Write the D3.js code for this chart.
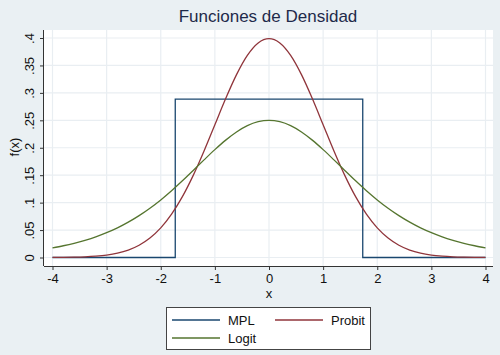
<!DOCTYPE html>
<html>
<head>
<meta charset="utf-8">
<script src="https://cdn.jsdelivr.net/npm/d3@7"></script>
<style>
  body { margin: 0; background: #eaf0f3; }
  svg { display: block; font-family: "Liberation Sans", Arial, sans-serif; }
</style>
</head>
<body>
<div id="chart"></div>
<script>
// values
const xs = [-4, -3.8, -3.6, -3.4, -3.2, -3, -2.8, -2.6, -2.4, -2.2, -2, -1.8, -1.6, -1.4, -1.2, -1, -0.8, -0.6, -0.4, -0.2,
  0, 0.2, 0.4, 0.6, 0.8, 1, 1.2, 1.4, 1.6, 1.8, 2, 2.2, 2.4, 2.6, 2.8, 3, 3.2, 3.4, 3.6, 3.8, 4];
const probit = [0.0001, 0.0003, 0.0006, 0.0012, 0.0024, 0.0044, 0.0079, 0.0136, 0.0224, 0.0355, 0.054, 0.079, 0.1109, 0.1497, 0.1942, 0.242, 0.2897, 0.3332, 0.3683, 0.391,
  0.3989, 0.391, 0.3683, 0.3332, 0.2897, 0.242, 0.1942, 0.1497, 0.1109, 0.079, 0.054, 0.0355, 0.0224, 0.0136, 0.0079, 0.0044, 0.0024, 0.0012, 0.0006, 0.0003, 0.0001];
const logit = [0.0177, 0.0214, 0.0259, 0.0313, 0.0376, 0.0452, 0.054, 0.0644, 0.0763, 0.0898, 0.105, 0.1217, 0.1398, 0.1587, 0.1779, 0.1966, 0.2139, 0.2288, 0.2403, 0.2475,
  0.25, 0.2475, 0.2403, 0.2288, 0.2139, 0.1966, 0.1779, 0.1587, 0.1398, 0.1217, 0.105, 0.0898, 0.0763, 0.0644, 0.054, 0.0452, 0.0376, 0.0313, 0.0259, 0.0214, 0.0177];
const mplX = [-4, -1.732, -1.732, 1.732, 1.732, 4];
const mplY = [0, 0, 0.2887, 0.2887, 0, 0];
const xTicks = [-4, -3, -2, -1, 0, 1, 2, 3, 4];
const yTicks = [0, 0.05, 0.1, 0.15, 0.2, 0.25, 0.3, 0.35, 0.4];
const yTickLabels = ["0", ".05", ".1", ".15", ".2", ".25", ".3", ".35", ".4"];

const W = 500, H = 355;
const plot = { left: 44, right: 493, top: 30, bottom: 266 };

const svg = d3.select("#chart").append("svg")
  .attr("width", W)
  .attr("height", H);

svg.append("rect")
  .attr("width", W).attr("height", H)
  .attr("fill", "#eaf0f3");

svg.append("rect")
  .attr("x", plot.left).attr("y", plot.top)
  .attr("width", plot.right - plot.left)
  .attr("height", plot.bottom - plot.top)
  .attr("fill", "white");

const x = d3.scaleLinear().domain([-4, 4]).range([52.5, 485.5]);
const y = d3.scaleLinear().domain([0, 0.4]).range([257.5, 38]);

// grid
svg.selectAll("line.vgrid")
  .data(xTicks)
  .enter().append("line")
  .attr("class", "vgrid")
  .attr("x1", d => x(d)).attr("x2", d => x(d))
  .attr("y1", plot.top).attr("y2", plot.bottom)
  .style("stroke", "#e9eef2")
  .style("stroke-width", 1.2);

svg.selectAll("line.hgrid")
  .data(yTicks)
  .enter().append("line")
  .attr("class", "hgrid")
  .attr("x1", plot.left).attr("x2", plot.right)
  .attr("y1", d => y(d)).attr("y2", d => y(d))
  .style("stroke", "#e9eef2")
  .style("stroke-width", 1.2);

// axes
const xAxis = d3.axisBottom(x).tickValues(xTicks).tickSize(4).tickPadding(4)
  .tickFormat(d3.format("d"));
const gx = svg.append("g")
  .attr("transform", "translate(0," + plot.bottom + ")")
  .call(xAxis);
gx.select(".domain").attr("d", "M" + plot.left + ",0.5H" + plot.right);
gx.selectAll("line").style("stroke", "#333");
gx.select(".domain").style("stroke", "#333");
gx.selectAll("text").style("font-size", "13px").style("fill", "#111")
  .text(d => d < 0 ? "-" + Math.abs(d) : d);

const yAxis = d3.axisLeft(y).tickValues(yTicks).tickSize(4).tickPadding(0)
  .tickFormat((d, i) => yTickLabels[i]);
const gy = svg.append("g")
  .attr("transform", "translate(" + plot.left + ",0)")
  .call(yAxis);
gy.select(".domain").attr("d", "M-0.5," + plot.top + "V" + plot.bottom);
gy.selectAll("line").style("stroke", "#333");
gy.select(".domain").style("stroke", "#333");
gy.selectAll(".tick text")
  .attr("x", null).attr("dy", null)
  .attr("transform", "translate(-10,0) rotate(-90)")
  .style("text-anchor", "middle")
  .style("font-size", "13px")
  .style("fill", "#111");

// series
const line = d3.line().curve(d3.curveMonotoneX);

svg.append("path")
  .datum(mplX.map((v, i) => [x(v), y(mplY[i])]))
  .attr("d", d3.line())
  .attr("fill", "none")
  .attr("stroke", "#1a476f")
  .attr("stroke-width", 1.3);

svg.append("path")
  .datum(xs.map((v, i) => [x(v), y(probit[i])]))
  .attr("d", line)
  .attr("fill", "none")
  .attr("stroke", "#90353b")
  .attr("stroke-width", 1.3);

svg.append("path")
  .datum(xs.map((v, i) => [x(v), y(logit[i])]))
  .attr("d", line)
  .attr("fill", "none")
  .attr("stroke", "#55752f")
  .attr("stroke-width", 1.3);

// titles
svg.append("text")
  .attr("x", 268).attr("y", 22)
  .style("text-anchor", "middle")
  .style("font-size", "17px")
  .style("fill", "#1e2a4a")
  .text("Funciones de Densidad");

svg.append("text")
  .attr("x", x(0)).attr("y", 298)
  .style("text-anchor", "middle")
  .style("font-size", "13px")
  .style("fill", "#111")
  .text("x");

svg.append("text")
  .attr("transform", "translate(19,147) rotate(-90)")
  .style("text-anchor", "middle")
  .style("font-size", "13px")
  .style("fill", "#111")
  .text("f(x)");

// legend
const legend = svg.append("g");
legend.append("rect")
  .attr("x", 166.5).attr("y", 307.5)
  .attr("width", 204).attr("height", 42)
  .attr("fill", "white")
  .attr("stroke", "#444")
  .attr("stroke-width", 1);

const items = [
  { name: "MPL", color: "#1a476f", lx: 172, ly: 320 },
  { name: "Probit", color: "#90353b", lx: 275, ly: 320 },
  { name: "Logit", color: "#55752f", lx: 172, ly: 338 }
];
items.forEach(d => {
  legend.append("line")
    .attr("x1", d.lx).attr("x2", d.lx + 48)
    .attr("y1", d.ly).attr("y2", d.ly)
    .attr("stroke", d.color).attr("stroke-width", 1.3);
  legend.append("text")
    .attr("x", d.lx + 56).attr("y", d.ly)
    .attr("dy", "0.35em")
    .style("font-size", "13px")
    .style("fill", "#111")
    .text(d.name);
});
</script>
</body>
</html>
